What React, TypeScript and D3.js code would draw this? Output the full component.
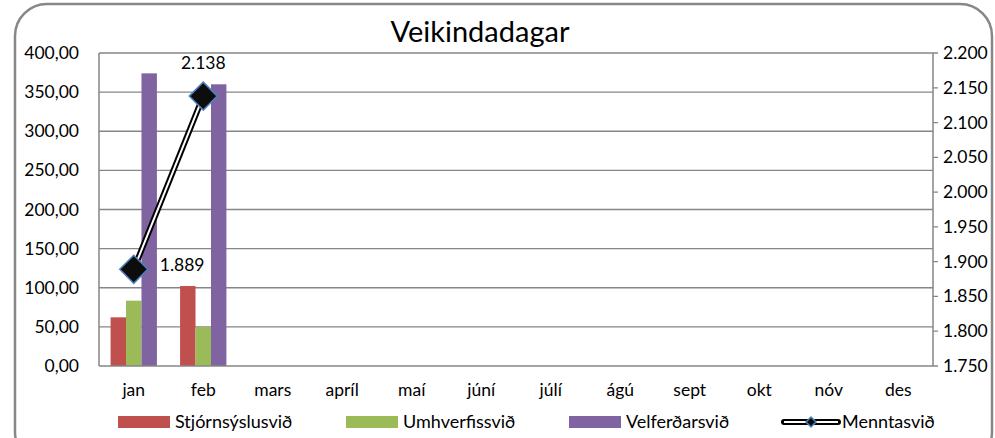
import * as d3 from "d3"
import React from "react"

const months = ["jan", "feb", "mars", "apríl", "maí", "júní", "júlí", "ágú", "sept", "okt", "nóv", "des"]
const stjorn = [62.2, 102.2]
const umhverfi = [83.5, 49.8]
const velferd = [374, 360]
const mennta = [1889, 2138]
const leftTicks = [0, 50, 100, 150, 200, 250, 300, 350, 400]
const rightTicks = [1750, 1800, 1850, 1900, 1950, 2000, 2050, 2100, 2150, 2200]
const barSeries = [
  { name: "Stjórnsýslusvið", values: stjorn, color: "#c0504d" },
  { name: "Umhverfissvið", values: umhverfi, color: "#9bbb59" },
  { name: "Velferðarsvið", values: velferd, color: "#8064a2" },
]

const W = 995
const H = 438
const font = "Lato, 'Open Sans', sans-serif"

export default function App() {
  const left = 99, right = 933, top = 53, bottom = 366
  const x = d3.scaleBand().domain(months).range([left, right])
  const inner = d3.scaleBand().domain(["0", "1", "2"]).range([0, x.bandwidth()]).paddingOuter(0.75).paddingInner(0)
  const y = d3.scaleLinear().domain([0, 400]).range([bottom, top])
  const y2 = d3.scaleLinear().domain([1750, 2200]).range([bottom, top])
  const fmtL = (v: number) => d3.format(".2f")(v).replace(".", ",")
  const fmtR = (v: number) => d3.format(",.0f")(v).replace(",", ".")
  const cx = (i: number) => (x(months[i]) as number) + x.bandwidth() / 2
  const line = d3.line<number>().x((_, i) => cx(i)).y(v => y2(v))(mennta) as string
  const diamond = (px: number, py: number, r: number) => `M${px},${py - r}L${px + r},${py}L${px},${py + r}L${px - r},${py}Z`
  const legendY = 422
  const legendX = [118, 346, 569]

  return (
    <svg width={W} height={H} style={{ position: "absolute", left: 0, top: 0, background: "#fff" }} fontFamily={font}>
      <defs>
        <clipPath id="frame">
          <rect x={15} y={4} width={977} height={460} rx={32} />
        </clipPath>
      </defs>
      <rect x={15} y={4} width={977} height={460} rx={32} fill="#fff" stroke="#878787" strokeWidth={2.5} />
      <g clipPath="url(#frame)">
        <text x={480} y={42} textAnchor="middle" fontSize={29} fill="#000">Veikindadagar</text>
        {leftTicks.map(t => (
          <g key={t}>
            {t > 0 && <line x1={left} x2={right} y1={y(t)} y2={y(t)} stroke="#868686" strokeWidth={1.3} />}
            <text x={79} y={y(t) + 6} textAnchor="end" fontSize={17.5}>{fmtL(t)}</text>
          </g>
        ))}
        {rightTicks.map(t => (
          <g key={t}>
            <line x1={right} x2={right + 5} y1={y2(t)} y2={y2(t)} stroke="#868686" strokeWidth={1.3} />
            <text x={943} y={y2(t) + 6} fontSize={17.5}>{fmtR(t)}</text>
          </g>
        ))}
        {barSeries.map((s, si) => s.values.map((v, i) => (
          <rect key={s.name + i} x={(x(months[i]) as number) + (inner(String(si)) as number)} width={inner.bandwidth()}
            y={y(v)} height={bottom - y(v)} fill={s.color} />
        )))}
        <line x1={left} x2={left} y1={top} y2={bottom} stroke="#868686" strokeWidth={1.5} />
        <line x1={right} x2={right} y1={top} y2={bottom} stroke="#868686" strokeWidth={1.5} />
        <line x1={left} x2={right} y1={bottom} y2={bottom} stroke="#868686" strokeWidth={1.5} />
        {months.map((m, i) => (
          <text key={m} x={cx(i)} y={396} textAnchor="middle" fontSize={17.5}>{m}</text>
        ))}
        <path d={line} fill="none" stroke="#000" strokeWidth={6} />
        <path d={line} fill="none" stroke="#fff" strokeWidth={2} />
        {mennta.map((v, i) => (
          <path key={i} d={diamond(cx(i), y2(v), 14)} fill="#0d0d0d" stroke="#4f81bd" strokeWidth={1.5} />
        ))}
        <text x={cx(0) + 26} y={y2(mennta[0]) + 2} fontSize={17.5}>{fmtR(mennta[0])}</text>
        <text x={cx(1)} y={y2(mennta[1]) - 27} textAnchor="middle" fontSize={17.5}>{fmtR(mennta[1])}</text>
        {barSeries.map((s, si) => (
          <g key={s.name}>
            <rect x={legendX[si]} y={legendY - 6} width={52} height={12} fill={s.color} />
            <text x={legendX[si] + 57} y={legendY + 6} fontSize={18}>{s.name}</text>
          </g>
        ))}
        <g>
          <line x1={784} x2={838} y1={legendY} y2={legendY} stroke="#000" strokeWidth={6} strokeLinecap="round" />
          <line x1={784} x2={838} y1={legendY} y2={legendY} stroke="#fff" strokeWidth={2} />
          <path d={diamond(811, legendY, 5)} fill="#0d0d0d" stroke="#4f81bd" strokeWidth={1.5} />
          <text x={842} y={legendY + 6} fontSize={18}>Menntasvið</text>
        </g>
      </g>
    </svg>
  )
}
